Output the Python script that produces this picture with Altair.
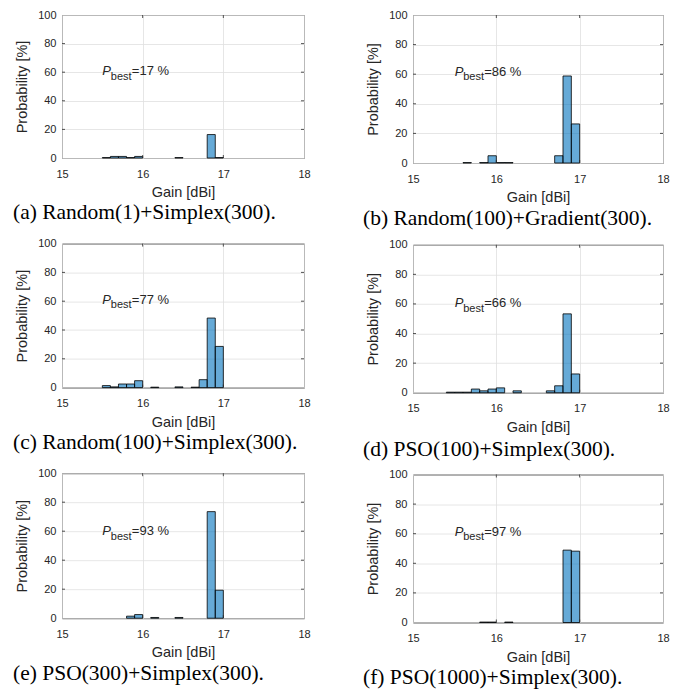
import altair as alt
import pandas as pd

# ---------------- data ----------------
captions = [
    "(a) Random(1)+Simplex(300).",
    "(b) Random(100)+Gradient(300).",
    "(c) Random(100)+Simplex(300).",
    "(d) PSO(100)+Simplex(300).",
    "(e) PSO(300)+Simplex(300).",
    "(f) PSO(1000)+Simplex(300).",
]
p_best = [17, 86, 77, 66, 93, 97]

BIN_WIDTH = 0.1  # histogram bin width [dBi]

bins_a = [15.5, 15.6, 15.7, 15.8, 15.9, 16.4, 16.8, 16.9]
prob_a = [0.3, 1.1, 1.1, 0.3, 1.1, 0.3, 16.4, 0.3]

bins_b = [15.6, 15.8, 15.9, 16.0, 16.1, 16.7, 16.8, 16.9]
prob_b = [0.3, 0.3, 4.9, 0.3, 0.3, 4.9, 58.8, 26.4]

bins_c = [15.5, 15.6, 15.7, 15.8, 15.9, 16.1, 16.4, 16.6, 16.7, 16.8, 16.9]
prob_c = [1.4, 0.5, 2.5, 2.5, 4.8, 0.3, 0.5, 0.3, 5.5, 48.3, 28.6]

bins_d = [15.4, 15.5, 15.6, 15.7, 15.8, 15.9, 16.0, 16.2, 16.6, 16.7, 16.8, 16.9]
prob_d = [0.4, 0.4, 0.4, 2.5, 1.3, 2.5, 3.3, 1.3, 1.3, 4.7, 53.3, 12.7]

bins_e = [15.8, 15.9, 16.1, 16.4, 16.8, 16.9]
prob_e = [1.4, 2.5, 0.5, 0.5, 73.5, 19.3]

bins_f = [15.8, 15.9, 16.1, 16.8, 16.9]
prob_f = [0.3, 0.3, 0.3, 48.9, 48.2]

all_bins = [bins_a, bins_b, bins_c, bins_d, bins_e, bins_f]
all_probs = [prob_a, prob_b, prob_c, prob_d, prob_e, prob_f]

x_ticks = [15, 16, 17, 18]
y_ticks = [0, 20, 40, 60, 80, 100]
inner_x_ticks = [16, 17]
inner_y_ticks = [20, 40, 60, 80]

ann_x = [15.5, 15.5, 15.5, 15.5, 15.5, 15.5]
ann_y = [60.7, 61.6, 61.0, 60.5, 59.8, 61.3]

# ---------------- styling ----------------
SANS = "Liberation Sans"
SERIF = "Liberation Serif"
INK = "#262626"
FACE = "#0072bd"

# per panel: width, height, caption dx, caption offset
layout = {
    0: (242, 143, -49, 3),
    2: (242, 144, -49, 3),
    4: (242, 145, -49, 3.5),
    1: (250, 148, -50, 3.5),
    3: (250, 148, -50, 5.5),
    5: (250, 148, -50, 3),
}


def panel(i):
    w, h, cap_dx, cap_off = layout[i]
    xs = alt.Scale(domain=[15, 18], nice=False, zero=False)
    ys = alt.Scale(domain=[0, 100], nice=False)
    xa = alt.Axis(values=x_ticks, title="Gain [dBi]", format="d")
    ya = alt.Axis(values=y_ticks, title="Probability [%]", format="d")

    df = pd.DataFrame({"lo": all_bins[i], "p": all_probs[i]})
    df["hi"] = df["lo"] + BIN_WIDTH
    df["base"] = 0

    bars = alt.Chart(df).mark_bar(
        fill=FACE, fillOpacity=0.6, stroke="black", strokeWidth=0.8
    ).encode(
        x=alt.X("lo:Q", scale=xs, axis=xa),
        x2="hi:Q",
        y=alt.Y("p:Q", scale=ys, axis=ya),
        y2="base:Q",
    )

    xt = pd.DataFrame({"t": inner_x_ticks})
    yt = pd.DataFrame({"t": inner_y_ticks})
    rule = dict(color=INK, strokeWidth=0.8)
    tb = alt.Chart(xt).mark_rule(**rule).encode(
        x=alt.X("t:Q", scale=xs, axis=xa), y=alt.value(h), y2=alt.value(h - 3))
    tt = alt.Chart(xt).mark_rule(**rule).encode(
        x=alt.X("t:Q", scale=xs, axis=xa), y=alt.value(0), y2=alt.value(3))
    tl = alt.Chart(yt).mark_rule(**rule).encode(
        y=alt.Y("t:Q", scale=ys, axis=ya), x=alt.value(0), x2=alt.value(3))
    tr = alt.Chart(yt).mark_rule(**rule).encode(
        y=alt.Y("t:Q", scale=ys, axis=ya), x=alt.value(w), x2=alt.value(w - 3))

    ann = pd.DataFrame({
        "x": [ann_x[i]], "y": [ann_y[i]],
        "p": ["P"], "s": ["best"], "v": [f"={p_best[i]} %"],
    })
    enc = dict(x=alt.X("x:Q", scale=xs, axis=xa), y=alt.Y("y:Q", scale=ys, axis=ya))
    t_p = alt.Chart(ann).mark_text(
        align="left", baseline="middle", font=SANS, fontSize=13,
        fontStyle="italic", color=INK).encode(text="p:N", **enc)
    t_s = alt.Chart(ann).mark_text(
        align="left", baseline="middle", font=SANS, fontSize=11,
        color=INK, dx=8.5, dy=5.5).encode(text="s:N", **enc)
    t_v = alt.Chart(ann).mark_text(
        align="left", baseline="middle", font=SANS, fontSize=13,
        color=INK, dx=29.5).encode(text="v:N", **enc)

    return alt.layer(bars, tb, tt, tl, tr, t_p, t_s, t_v).properties(
        width=w, height=h,
        title=alt.TitleParams(
            text=captions[i], orient="bottom", anchor="start", frame="group",
            dx=cap_dx, offset=cap_off, baseline="top",
            font=SERIF, fontSize=21.5, fontWeight="normal", color="black"),
    )


left_col = alt.vconcat(panel(0), panel(2), panel(4), spacing=85.6, bounds="flush")
right_col = alt.vconcat(panel(1), panel(3), panel(5), spacing=81.75, bounds="flush")

chart = alt.hconcat(left_col, right_col, spacing=51).properties(
    padding={"left": 4, "top": 0, "right": 0, "bottom": 0}
).configure_view(
    stroke=INK, strokeWidth=1
).configure_axis(
    domain=False, ticks=False, tickSize=0, grid=True,
    gridColor="#dfdfdf", gridWidth=0.8,
    labelFont=SANS, labelFontSize=11, labelColor=INK,
    labelFlush=False, labelOverlap=False,
    titleFont=SANS, titleFontSize=14.5, titleFontWeight="normal", titleColor=INK,
).configure_axisX(
    labelPadding=10, titlePadding=6.5
).configure_axisY(
    labelPadding=6, titlePadding=8
)

chart.save("out.html", embed_options={"renderer": "svg", "actions": False})
